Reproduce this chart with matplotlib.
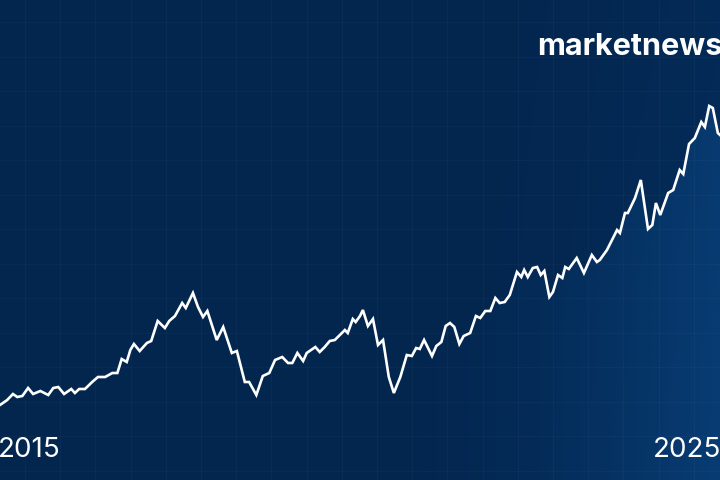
import numpy as np
import matplotlib
matplotlib.use("Agg")
import matplotlib.pyplot as plt
from matplotlib.path import Path
from matplotlib.patches import PathPatch

# ---- data (decimal year, index level) ----
years = [2015.00, 2015.10, 2015.18, 2015.24, 2015.31, 2015.39, 2015.46, 2015.56, 2015.67, 2015.74,
         2015.81, 2015.89, 2015.99, 2016.04, 2016.10, 2016.18, 2016.28, 2016.36, 2016.46, 2016.56,
         2016.63, 2016.69, 2016.76, 2016.81, 2016.86, 2016.94, 2017.04, 2017.10, 2017.19, 2017.29,
         2017.35, 2017.43, 2017.53, 2017.58, 2017.68, 2017.75, 2017.82, 2017.88, 2018.01, 2018.10,
         2018.22, 2018.29, 2018.40, 2018.46, 2018.56, 2018.65, 2018.74, 2018.82, 2018.92, 2019.00,
         2019.06, 2019.13, 2019.21, 2019.26, 2019.38, 2019.44, 2019.51, 2019.58, 2019.65, 2019.79,
         2019.83, 2019.90, 2019.94, 2020.00, 2020.04, 2020.11, 2020.18, 2020.25, 2020.32, 2020.40,
         2020.47, 2020.56, 2020.65, 2020.72, 2020.78, 2020.83, 2020.89, 2021.00, 2021.06, 2021.13,
         2021.19, 2021.25, 2021.31, 2021.38, 2021.44, 2021.53, 2021.61, 2021.67, 2021.74, 2021.81,
         2021.88, 2021.94, 2022.01, 2022.08, 2022.18, 2022.24, 2022.28, 2022.33, 2022.40, 2022.46,
         2022.51, 2022.56, 2022.63, 2022.68, 2022.75, 2022.81, 2022.85, 2022.90, 2023.01, 2023.11,
         2023.22, 2023.29, 2023.33, 2023.43, 2023.50, 2023.57, 2023.61, 2023.68, 2023.72, 2023.82,
         2023.90, 2024.00, 2024.06, 2024.11, 2024.17, 2024.28, 2024.35, 2024.44, 2024.49, 2024.57,
         2024.65, 2024.74, 2024.79, 2024.85, 2024.90, 2024.97, 2025.00]
values = [75, 80, 86, 83, 84, 92, 86, 89, 85, 92,
          93, 86, 91, 87, 91, 91, 98, 103, 103, 107,
          107, 121, 118, 130, 136, 129, 137, 139, 159, 152,
          159, 164, 177, 172, 187, 173, 163, 169, 140, 153,
          127, 129, 98, 98, 85, 104, 107, 120, 123, 117,
          117, 127, 119, 127, 133, 128, 133, 139, 140, 150,
          147, 161, 158, 164, 170, 154, 161, 135, 140, 103,
          87, 103, 125, 124, 132, 131, 140, 124, 134, 138,
          154, 157, 153, 136, 144, 147, 164, 162, 169, 169,
          182, 177, 178, 185, 208, 203, 210, 203, 212, 213,
          205, 209, 183, 188, 205, 202, 213, 211, 222, 207,
          225, 218, 220, 230, 240, 250, 247, 267, 267, 282,
          300, 251, 255, 277, 265, 287, 290, 310, 306, 336,
          342, 358, 353, 374, 372, 347, 345]
brand = "marketnews"
start_label = "2015"
end_label = "2025"

BG = "#03264f"

fig = plt.figure(figsize=(7.2, 4.8), dpi=100, facecolor=BG)
ax = fig.add_axes([0, 0, 1, 1])
ax.set_facecolor(BG)
x0, x1 = 2015.0, 2025.0
ax.set_xlim(x0, x1)
ax.set_ylim(0, 480)

# faint grid
ax.set_xticks(np.arange(x0 + 25 / 72, x1, 35.2 / 72))
ax.set_yticks(np.arange(480 - 22, 0, -34.5))
ax.tick_params(length=0, labelbottom=False, labelleft=False)
ax.grid(True, color="#ffffff", alpha=0.028, linewidth=1.0)
for s in ax.spines.values():
    s.set_visible(False)

# soft glow on the right side of the whole background
nx, ny = 400, 200
gx = np.linspace(0, 1, nx)
gy = np.linspace(0, 1, ny)
GX, GY = np.meshgrid(gx, gy)
glow = np.zeros((ny, nx, 4))
glow[..., 0] = 0x08 / 255
glow[..., 1] = 0x40 / 255
glow[..., 2] = 0x78 / 255
glow[..., 3] = np.clip((GX - 0.55) / 0.45, 0, 1) ** 2 * 0.35 * (1 - 0.5 * GY)
ax.imshow(glow, extent=(x0, x1, 0, 480), origin="lower", aspect="auto", zorder=0.5)

# gradient glow under the curve, stronger towards the right
rgba = np.zeros((ny, nx, 4))
rgba[..., 0] = 0x0c / 255
rgba[..., 1] = 0x4a / 255
rgba[..., 2] = 0x8a / 255
rgba[..., 3] = np.clip((GX - 0.5) / 0.5, 0, 1) ** 1.8 * 0.5
im = ax.imshow(rgba, extent=(x0, x1, 0, 480), origin="lower", aspect="auto", zorder=1)
verts = [(years[0], 0)] + list(zip(years, values)) + [(years[-1], 0)]
poly = PathPatch(Path(verts), transform=ax.transData, facecolor="none", edgecolor="none")
ax.add_patch(poly)
im.set_clip_path(poly)

ax.plot(years, values, color="white", linewidth=1.9, solid_joinstyle="miter", zorder=3)

fig.text(537 / 720, 1 - 55 / 480, brand, color="white", fontsize=22, fontweight="bold",
         family="Inter", va="baseline", ha="left")
fig.text(-2 / 720, 1 - 457 / 480, start_label, color="white", fontsize=20,
         family="Inter", va="baseline", ha="left")
fig.text(653 / 720, 1 - 457 / 480, end_label, color="white", fontsize=20,
         family="Inter", va="baseline", ha="left")

fig.savefig("out.png", dpi=100, facecolor=BG)
